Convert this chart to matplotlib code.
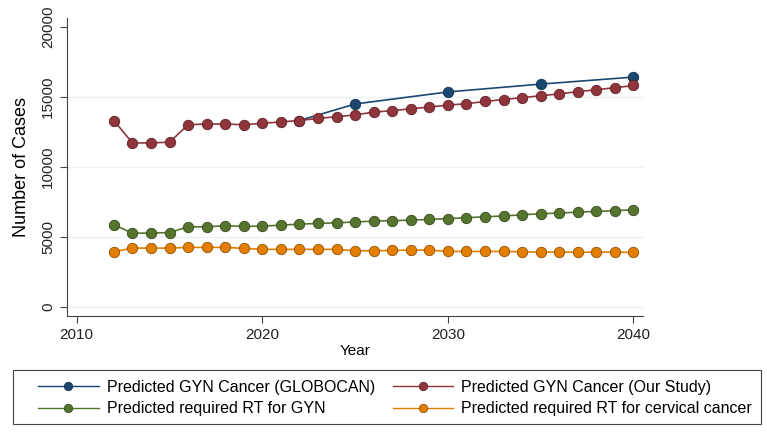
import matplotlib.pyplot as plt
from matplotlib.patches import Rectangle

plt.rcParams['font.family'] = ['Liberation Sans', 'DejaVu Sans']

# data
years = list(range(2012, 2041))
our_study = [13300, 11700, 11700, 11750, 13000, 13050, 13050, 13000, 13100, 13200,
             13300, 13450, 13570, 13700, 13900, 14000, 14140, 14260, 14400, 14500,
             14660, 14800, 14930, 15070, 15200, 15360, 15500, 15640, 15800]
globocan_years = [2022, 2025, 2030, 2035, 2040]
globocan = [13300, 14480, 15340, 15900, 16400]
rt_gyn = [5860, 5260, 5260, 5300, 5710, 5710, 5790, 5740, 5760, 5830,
          5900, 5950, 6000, 6050, 6120, 6150, 6190, 6240, 6290, 6360,
          6430, 6480, 6570, 6640, 6690, 6760, 6810, 6860, 6930]
rt_cervical = [3930, 4190, 4190, 4190, 4240, 4240, 4240, 4170, 4100, 4100,
               4100, 4100, 4100, 4000, 4000, 4020, 4050, 4050, 3950, 3950,
               3950, 3950, 3930, 3900, 3900, 3900, 3900, 3900, 3880]

labels = ['Predicted GYN Cancer (GLOBOCAN)', 'Predicted GYN Cancer (Our Study)',
          'Predicted required RT for GYN', 'Predicted required RT for cervical cancer']
colors = ['#1a476f', '#90353b', '#55752f', '#e37e00']

fig = plt.figure(figsize=(7.67, 4.32), dpi=100)
ax = fig.add_axes([0.087, 0.269, 0.751, 0.69])

for g in [0, 5000, 10000, 15000]:
    ax.axhline(g, color='#eaf2f3', lw=1, zorder=0)

mk = dict(marker='o', markersize=7.5, markeredgewidth=0.6, lw=1.2)
h1, = ax.plot(globocan_years, globocan, color=colors[0], mfc=colors[0], mec='#10304d', zorder=2, **mk)
h2, = ax.plot(years, our_study, color=colors[1], mfc=colors[1], mec='#5e2227', zorder=3, **mk)
h3, = ax.plot(years, rt_gyn, color=colors[2], mfc=colors[2], mec='#36491e', zorder=3, **mk)
h4, = ax.plot(years, rt_cervical, color=colors[3], mfc=colors[3], mec='#8f5000', zorder=3, **mk)

ax.set_xlim(2009.46, 2040.5)
ax.set_ylim(-643, 20640)
ax.set_xticks([2010, 2020, 2030, 2040])
ax.set_yticks([0, 5000, 10000, 15000, 20000])
ax.set_yticklabels(['0', '5000', '10000', '15000', '20000'], rotation=90, va='center')
ax.tick_params(labelsize=11, length=5, width=0.8, color='#444444', labelcolor='#222222')
for s in ['top', 'right']:
    ax.spines[s].set_visible(False)
for s in ['left', 'bottom']:
    ax.spines[s].set_color('#444444')
    ax.spines[s].set_linewidth(0.8)

ax.set_xlabel('Year', fontsize=11, labelpad=2)
ax.set_ylabel('Number of Cases', fontsize=13, labelpad=8)

# legend box drawn separately (the original has more room on the left)
fig.patches.append(Rectangle((13 / 767, 1 - 424 / 432), 748 / 767, 54 / 432,
                             transform=fig.transFigure, fill=False,
                             edgecolor='#444444', lw=0.8))

# row-wise order like the original: matplotlib fills columns first
leg = fig.legend([h1, h3, h2, h4], [labels[0], labels[2], labels[1], labels[3]],
                 loc='center left', ncol=2, bbox_to_anchor=(38 / 767, 1 - 398 / 432),
                 fontsize=11.5, frameon=False, handlelength=3.8, handletextpad=0.5,
                 columnspacing=1.1, borderaxespad=0, borderpad=0, labelspacing=0.4,
                 markerscale=0.8)
for line in leg.get_lines():
    line.set_linewidth(1.0)

fig.savefig('out.png', dpi=100)
